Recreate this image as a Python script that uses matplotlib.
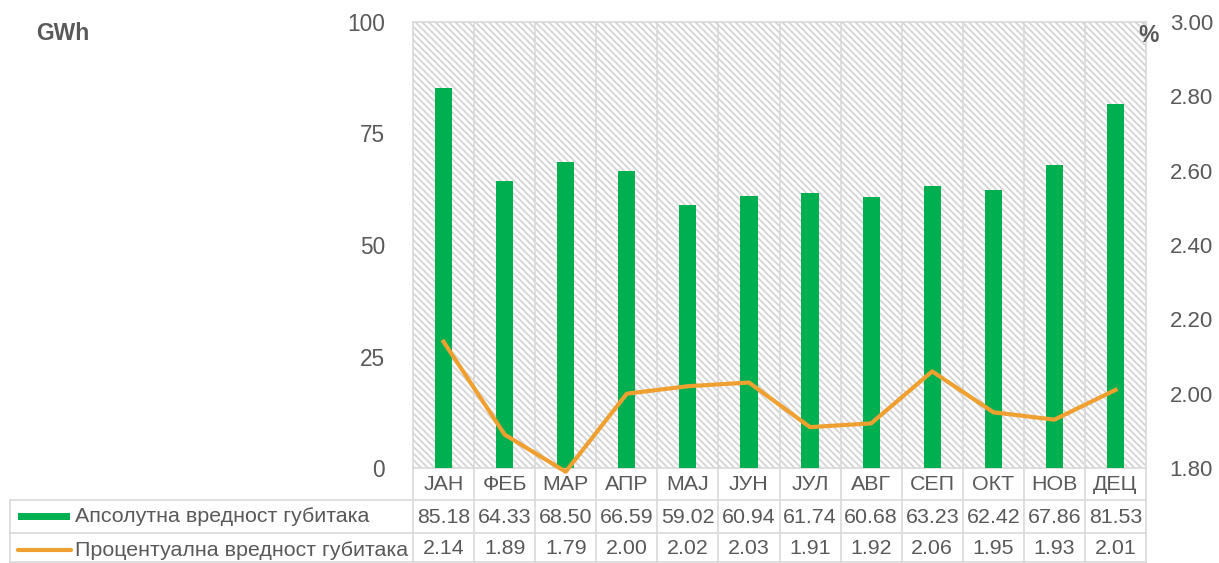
import matplotlib
matplotlib.use("Agg")
import matplotlib.pyplot as plt
from matplotlib.patches import Rectangle
from matplotlib.lines import Line2D
import matplotlib.transforms as mtransforms

plt.rcParams['font.family'] = ['Liberation Sans', 'DejaVu Sans']
plt.rcParams['hatch.linewidth'] = 1.3

months = ["ЈАН", "ФЕБ", "МАР", "АПР", "МАЈ", "ЈУН", "ЈУЛ", "АВГ", "СЕП", "ОКТ", "НОВ", "ДЕЦ"]
loss_gwh = [85.18, 64.33, 68.50, 66.59, 59.02, 60.94, 61.74, 60.68, 63.23, 62.42, 67.86, 81.53]
loss_pct = [2.14, 1.89, 1.79, 2.00, 2.02, 2.03, 1.91, 1.92, 2.06, 1.95, 1.93, 2.01]
series_names = ["Апсолутна вредност губитака", "Процентуална вредност губитака"]
left_ticks = [0, 25, 50, 75, 100]
right_ticks = [1.80, 2.00, 2.20, 2.40, 2.60, 2.80, 3.00]

W, H = 1219, 563
GREEN = "#00B050"
ORANGE = "#F0A030"
GRID = "#D9D9D9"
HATCH = "#D4D4D4"
TXT = "#595959"

fig = plt.figure(figsize=(W / 100, H / 100), dpi=100)
px_l, px_r, px_t, px_b = 413, 1146, 22, 468
ax = fig.add_axes([px_l / W, 1 - px_b / H, (px_r - px_l) / W, (px_b - px_t) / H])
ax.set_facecolor("white")

# hatched plot background
bg = Rectangle((0, 0), 1, 1, transform=ax.transAxes, facecolor="white",
               edgecolor=HATCH, hatch="\\\\\\\\\\", linewidth=0, zorder=0)
ax.add_patch(bg)

x = list(range(len(months)))
ax.bar(x, loss_gwh, width=0.28, color=GREEN, zorder=3)
ax.set_xlim(-0.5, len(months) - 0.5)
ax.set_ylim(0, 100)
ax.set_yticks(left_ticks)
ax.set_yticklabels([str(t) for t in left_ticks])
ax.tick_params(axis='y', length=0, labelsize=16.3, labelcolor=TXT, pad=20)
ax.set_xticks([])
for s in ax.spines.values():
    s.set_color(GRID)
    s.set_linewidth(1.2)

ax2 = ax.twinx()
ax2.plot(x, loss_pct, color=ORANGE, linewidth=3, zorder=4, clip_on=False,
         solid_joinstyle='round')
ax2.set_ylim(1.8, 3.0)
ax2.set_yticks(right_ticks)
ax2.set_yticklabels([f"{t:.2f}" for t in right_ticks])
ax2.tick_params(axis='y', length=0, labelsize=16, labelcolor=TXT, pad=17)
for s in ax2.spines.values():
    s.set_visible(False)

# category separators inside plot
for i in range(1, len(months)):
    ax.axvline(i - 0.5, color=GRID, linewidth=1.2, zorder=1)

fig.text(36 / W, 1 - 34 / H, "GWh", fontsize=16.5, fontweight='bold', color=TXT,
         ha='left', va='center')
fig.text(1149 / W, 1 - 36 / H, "%", fontsize=16.5, fontweight='bold', color=TXT,
         ha='center', va='center')

# data table below the plot
bt = mtransforms.blended_transform_factory(ax.transData, fig.transFigure)
def fy(py):
    return 1 - py / H

row_month, row_a, row_b, row_end = 468, 500, 533, 563
table_left = 10
for i in range(len(months) + 1):
    xv = i - 0.5
    fig.add_artist(Line2D([xv, xv], [fy(row_month), fy(row_end)], transform=bt,
                          color=GRID, linewidth=1.2))
for yy in (row_a, row_b, row_end - 1):
    fig.add_artist(Line2D([table_left / W, px_r / W], [fy(yy), fy(yy)],
                          transform=fig.transFigure, color=GRID, linewidth=1.2))
fig.add_artist(Line2D([table_left / W, table_left / W], [fy(row_a), fy(row_end)],
                      transform=fig.transFigure, color=GRID, linewidth=1.2))

fs = 15.4
for i, m in enumerate(months):
    fig.text(i, fy((row_month + row_a) / 2 + 1), m, transform=bt, ha='center',
             va='center', fontsize=fs, color=TXT)
    fig.text(i, fy((row_a + row_b) / 2 + 1), f"{loss_gwh[i]:.2f}", transform=bt,
             ha='center', va='center', fontsize=fs, color=TXT)
    fig.text(i, fy((row_b + row_end) / 2 + 1), f"{loss_pct[i]:.2f}", transform=bt,
             ha='center', va='center', fontsize=fs, color=TXT)

# legend keys in the table rows
fig.add_artist(Rectangle((18 / W, fy(520)), 52 / W, 7 / H, transform=fig.transFigure,
                         facecolor=GREEN, edgecolor='none'))
fig.add_artist(Line2D([18 / W, 71 / W], [fy(550), fy(550)], transform=fig.transFigure,
                      color=ORANGE, linewidth=3, solid_capstyle='round'))
fig.text(75 / W, fy(517), series_names[0], ha='left', va='center', fontsize=fs, color=TXT)
fig.text(75 / W, fy(550), series_names[1], ha='left', va='center', fontsize=fs, color=TXT)

fig.savefig("out.png", dpi=100)
